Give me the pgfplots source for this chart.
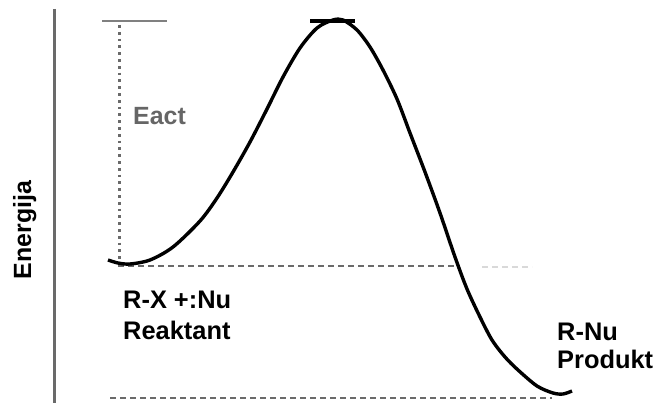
\documentclass[border=0pt]{standalone}
\usepackage{fontspec}
\setmainfont{Liberation Sans}
\usepackage{pgfplots}
\pgfplotsset{compat=1.18}
\definecolor{axgray}{HTML}{6A6A6A}
\definecolor{dgray}{HTML}{6A6A6A}
\definecolor{egray}{HTML}{666666}
\begin{document}
\begin{tikzpicture}
\begin{axis}[
  scale only axis, width=654bp, height=403bp,
  xmin=0, xmax=654, ymin=0, ymax=403, y dir=reverse,
  hide axis, clip=false,
]
% bounding box
\addplot[draw=none] coordinates {(0,0) (654,403)};
% vertical energy axis
\addplot[axgray, line width=3bp] coordinates {(54,9) (54,403)};
% top reference line (grey) and Eact dotted line
\addplot[gray, line width=2.8bp] coordinates {(102,21) (167,21)};
\addplot[dgray, line width=3bp, dash pattern=on 2.8bp off 4bp] coordinates {(119,25) (119,262)};
% reactant level dashed line
\addplot[dgray, line width=2.8bp, dash pattern=on 6bp off 4bp] coordinates {(118,266) (455,266)};
\addplot[gray!30, line width=2bp, dash pattern=on 6bp off 4bp] coordinates {(482,267) (532,267)};
% product level dashed line
\addplot[dgray, line width=2.8bp, dash pattern=on 6bp off 4bp] coordinates {(110,398) (552,398)};
% transition state cap
\addplot[black, line width=3.4bp] coordinates {(310,21) (355,21)};
% energy curve
\addplot[black, line width=3.4bp, smooth, tension=0.5] coordinates {
 (108,260) (118,263) (130,264) (150,260) (173,247) (200,221) (217,198)
 (233,172) (250,142) (267,109) (283,77) (300,48) (317,28) (333,20)
 (343,20) (357,30) (370,47) (383,70) (397,99) (410,133) (425,172)
 (440,213) (455,257) (467,289) (480,317) (492,340) (505,357) (518,370)
 (537,386) (553,393) (563,394) (572,391)
};
% labels
\node[anchor=base west, inner sep=0pt, text=egray, font=\fontsize{25}{29}\selectfont\bfseries] at (axis cs:133,124) {Eact};
\node[anchor=base west, inner sep=0pt, font=\fontsize{25.5}{29}\selectfont\bfseries] at (axis cs:123,308) {R-X +:Nu};
\node[anchor=base west, inner sep=0pt, font=\fontsize{25.5}{29}\selectfont\bfseries] at (axis cs:123,339) {Reaktant};
\node[anchor=base west, inner sep=0pt, font=\fontsize{25.5}{29}\selectfont\bfseries] at (axis cs:557,340) {R-Nu};
\node[anchor=base west, inner sep=0pt, font=\fontsize{25.5}{29}\selectfont\bfseries] at (axis cs:557,368) {Produkt};
\node[anchor=base, inner sep=0pt, rotate=90, font=\fontsize{25}{29}\selectfont\bfseries] at (axis cs:31,230) {Energija};
\end{axis}
\end{tikzpicture}
\end{document}
